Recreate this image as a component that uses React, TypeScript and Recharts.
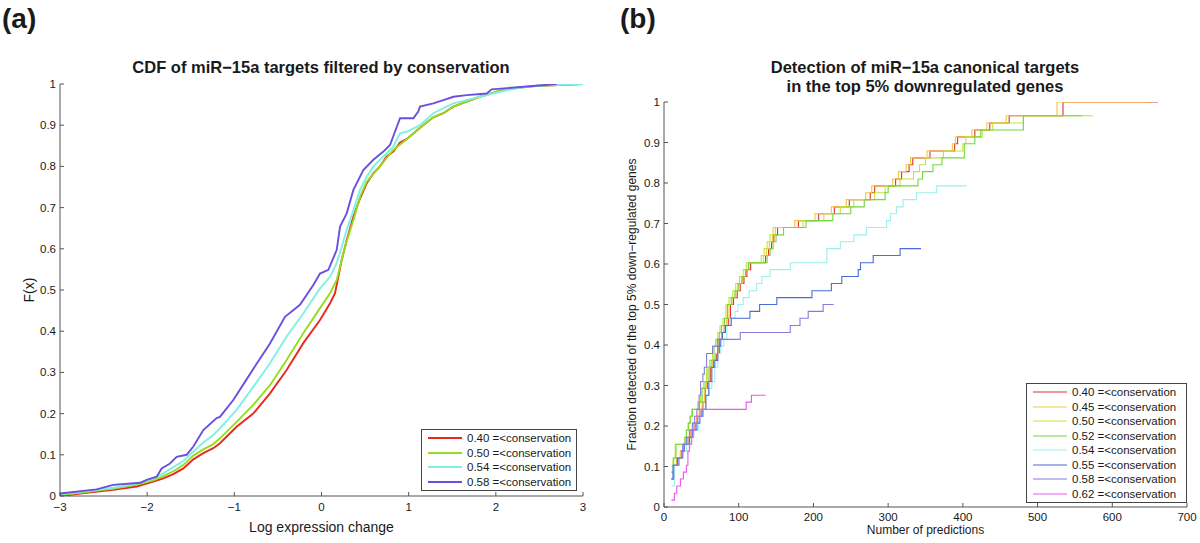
import React from 'react';
import { LineChart, Line, XAxis, YAxis, Legend } from 'recharts';

// ---- (a) CDF of miR-15a targets, points are [log expression change, F(x)]
const cdf040: [number, number][] = [
  [-3, 0], [-2.77, 0.006], [-2.39, 0.015], [-2.12, 0.023], [-1.93, 0.035], [-1.815, 0.043],
  [-1.7, 0.053], [-1.585, 0.067], [-1.47, 0.089], [-1.356, 0.104], [-1.241, 0.116], [-1.165, 0.128],
  [-0.974, 0.168], [-0.783, 0.2], [-0.591, 0.249], [-0.4, 0.306], [-0.209, 0.371], [-0.017, 0.427],
  [0.098, 0.468], [0.155, 0.492], [0.193, 0.532], [0.232, 0.573], [0.289, 0.621], [0.366, 0.678],
  [0.442, 0.722], [0.518, 0.759], [0.595, 0.783], [0.671, 0.8], [0.748, 0.824], [0.824, 0.836],
  [0.901, 0.858], [0.977, 0.866], [1.13, 0.894], [1.283, 0.919], [1.398, 0.929], [1.513, 0.945],
  [1.665, 0.957], [1.818, 0.969], [1.933, 0.976], [2.048, 0.984], [2.239, 0.99], [2.43, 0.995], [3, 1],
];
const cdf050: [number, number][] = [
  [-3, 0.002], [-2.77, 0.008], [-2.39, 0.018], [-2.12, 0.027], [-1.93, 0.038], [-1.815, 0.048],
  [-1.7, 0.06], [-1.585, 0.075], [-1.47, 0.098], [-1.356, 0.113], [-1.241, 0.126], [-1.165, 0.14],
  [-0.974, 0.18], [-0.783, 0.221], [-0.591, 0.269], [-0.4, 0.33], [-0.209, 0.395], [-0.017, 0.456],
  [0.098, 0.492], [0.174, 0.524], [0.213, 0.557], [0.27, 0.605], [0.366, 0.67], [0.442, 0.726],
  [0.518, 0.763], [0.633, 0.791], [0.824, 0.84], [0.977, 0.866], [1.13, 0.894], [1.283, 0.919],
  [1.398, 0.929], [1.513, 0.945], [1.665, 0.957], [1.818, 0.969], [1.933, 0.976], [2.048, 0.984],
  [2.239, 0.99], [2.43, 0.995], [3, 1],
];
const cdf054: [number, number][] = [
  [-3, 0.004], [-2.77, 0.01], [-2.39, 0.02], [-2.12, 0.03], [-1.93, 0.042], [-1.815, 0.055],
  [-1.7, 0.07], [-1.585, 0.085], [-1.47, 0.108], [-1.356, 0.13], [-1.241, 0.148], [-1.165, 0.164],
  [-0.974, 0.209], [-0.783, 0.265], [-0.591, 0.322], [-0.4, 0.387], [-0.209, 0.443], [-0.017, 0.504],
  [0.098, 0.532], [0.174, 0.565], [0.232, 0.605], [0.289, 0.646], [0.366, 0.694], [0.442, 0.743],
  [0.518, 0.775], [0.595, 0.8], [0.71, 0.824], [0.824, 0.848], [0.901, 0.88], [0.977, 0.884],
  [1.13, 0.9], [1.283, 0.929], [1.513, 0.953], [1.742, 0.965], [2.048, 0.981], [2.239, 0.99],
  [2.62, 0.998], [3, 1],
];
const cdf058: [number, number][] = [
  [-3, 0.006], [-2.58, 0.016], [-2.39, 0.027], [-2.08, 0.032], [-2.006, 0.039], [-1.891, 0.047],
  [-1.834, 0.067], [-1.738, 0.079], [-1.662, 0.095], [-1.547, 0.1], [-1.47, 0.12], [-1.356, 0.16],
  [-1.203, 0.189], [-1.165, 0.192], [-1.012, 0.233], [-0.878, 0.277], [-0.744, 0.321], [-0.591, 0.37],
  [-0.419, 0.435], [-0.247, 0.464], [-0.094, 0.512], [-0.017, 0.54], [0.079, 0.549], [0.174, 0.597],
  [0.213, 0.654], [0.289, 0.686], [0.366, 0.743], [0.48, 0.791], [0.595, 0.816], [0.71, 0.836],
  [0.786, 0.852], [0.901, 0.917], [1.054, 0.917], [1.11, 0.933], [1.13, 0.945], [1.283, 0.953],
  [1.398, 0.961], [1.513, 0.969], [1.665, 0.973], [1.895, 0.977], [1.952, 0.987], [2.43, 0.995],
  [2.697, 1],
];

const cdfSeries = [cdf040, cdf050, cdf054, cdf058];
const cdfNames = ['0.40 =<conservation', '0.50 =<conservation', '0.54 =<conservation', '0.58 =<conservation'];
const cdfColors = ['#e8281e', '#96dc1e', '#7ff0e4', '#6a4fe0'];

// ---- (b) detection of canonical targets, points are [number of predictions, fraction]
const det040: [number, number][] = [
  [10, 0.069], [13, 0.103], [17, 0.121], [22, 0.138], [27, 0.155], [32, 0.172], [36, 0.19], [40, 0.207],
  [44, 0.224], [48, 0.241], [52, 0.259], [55, 0.293], [58, 0.31], [62, 0.345], [66, 0.362], [70, 0.379],
  [74, 0.414], [78, 0.431], [82, 0.448], [86, 0.466], [89, 0.5], [93, 0.517], [98, 0.534], [102, 0.552],
  [107, 0.569], [111, 0.586], [116, 0.603], [136, 0.621], [140, 0.638], [144, 0.655], [147, 0.672],
  [152, 0.69], [180, 0.707], [207, 0.724], [228, 0.741], [248, 0.759], [276, 0.776], [282, 0.793],
  [310, 0.81], [318, 0.828], [328, 0.845], [333, 0.862], [356, 0.879], [389, 0.897], [393, 0.914],
  [416, 0.931], [436, 0.948], [462, 0.966], [534, 1], [661, 1],
];
const det045: [number, number][] = [
  [10, 0.086], [13, 0.103], [17, 0.121], [22, 0.138], [27, 0.155], [32, 0.172], [36, 0.19], [40, 0.207],
  [44, 0.224], [47, 0.241], [51, 0.259], [54, 0.293], [57, 0.31], [61, 0.345], [65, 0.362], [69, 0.379],
  [73, 0.414], [77, 0.431], [80, 0.448], [84, 0.466], [87, 0.5], [91, 0.517], [96, 0.534], [100, 0.552],
  [105, 0.569], [109, 0.586], [114, 0.603], [133, 0.621], [137, 0.638], [141, 0.655], [145, 0.672],
  [149, 0.69], [175, 0.707], [202, 0.724], [224, 0.741], [244, 0.759], [270, 0.776], [278, 0.793],
  [306, 0.81], [314, 0.828], [324, 0.845], [330, 0.862], [352, 0.879], [386, 0.897], [390, 0.914],
  [412, 0.931], [432, 0.948], [458, 0.966], [526, 1], [649, 1],
];
const det050: [number, number][] = [
  [10, 0.103], [12, 0.121], [15, 0.155], [28, 0.172], [30, 0.19], [32, 0.207], [35, 0.224], [37, 0.241],
  [45, 0.259], [49, 0.293], [53, 0.31], [57, 0.345], [61, 0.362], [65, 0.397], [69, 0.414], [72, 0.431],
  [75, 0.448], [79, 0.466], [83, 0.5], [87, 0.517], [92, 0.534], [96, 0.552], [101, 0.569], [106, 0.586],
  [110, 0.603], [130, 0.621], [134, 0.638], [138, 0.655], [142, 0.672], [146, 0.69], [186, 0.707],
  [214, 0.724], [236, 0.741], [254, 0.759], [282, 0.776], [296, 0.793], [316, 0.81], [334, 0.828],
  [342, 0.845], [350, 0.862], [374, 0.879], [400, 0.897], [404, 0.914], [426, 0.931], [440, 0.948],
  [481, 0.966], [574, 0.966],
];
const det052: [number, number][] = [
  [10, 0.086], [13, 0.121], [16, 0.155], [28, 0.172], [30, 0.19], [33, 0.207], [35, 0.224], [38, 0.241],
  [47, 0.259], [51, 0.293], [55, 0.31], [59, 0.345], [63, 0.362], [67, 0.397], [71, 0.414], [74, 0.431],
  [77, 0.448], [81, 0.466], [85, 0.5], [90, 0.517], [95, 0.534], [99, 0.552], [104, 0.569], [109, 0.586],
  [113, 0.603], [138, 0.621], [142, 0.638], [146, 0.655], [150, 0.672], [160, 0.69], [190, 0.707],
  [226, 0.724], [250, 0.741], [268, 0.759], [296, 0.776], [300, 0.793], [340, 0.81], [346, 0.828],
  [360, 0.845], [372, 0.862], [402, 0.897], [416, 0.914], [424, 0.931], [481, 0.966], [560, 0.966],
];
const det054: [number, number][] = [
  [10, 0.052], [14, 0.103], [20, 0.121], [26, 0.138], [30, 0.155], [36, 0.172], [40, 0.19], [46, 0.224],
  [52, 0.241], [56, 0.276], [60, 0.293], [64, 0.31], [68, 0.345], [72, 0.379], [76, 0.397], [80, 0.414],
  [84, 0.448], [88, 0.466], [95, 0.483], [99, 0.5], [106, 0.517], [114, 0.534], [124, 0.552], [131, 0.569],
  [142, 0.586], [169, 0.603], [218, 0.638], [236, 0.655], [254, 0.672], [271, 0.69], [298, 0.707],
  [303, 0.724], [311, 0.741], [320, 0.759], [338, 0.776], [365, 0.793], [405, 0.793],
];
const det055: [number, number][] = [
  [10, 0.069], [12, 0.103], [18, 0.121], [24, 0.138], [27, 0.155], [34, 0.172], [38, 0.19], [44, 0.207],
  [48, 0.224], [52, 0.241], [56, 0.276], [60, 0.31], [64, 0.345], [68, 0.362], [72, 0.397], [76, 0.414],
  [78, 0.431], [82, 0.448], [90, 0.466], [115, 0.483], [128, 0.5], [151, 0.517], [198, 0.534],
  [224, 0.552], [238, 0.569], [260, 0.586], [263, 0.603], [280, 0.621], [316, 0.638], [344, 0.638],
];
const det058: [number, number][] = [
  [10, 0.069], [13, 0.103], [20, 0.121], [25, 0.155], [30, 0.172], [34, 0.19], [38, 0.207], [41, 0.224],
  [44, 0.241], [47, 0.276], [49, 0.31], [52, 0.328], [54, 0.345], [57, 0.379], [65, 0.397], [72, 0.414],
  [102, 0.431], [169, 0.448], [182, 0.466], [193, 0.483], [213, 0.5], [227, 0.5],
];
const det062: [number, number][] = [
  [10, 0.017], [14, 0.034], [17, 0.052], [22, 0.069], [26, 0.086], [30, 0.103], [32, 0.138], [34, 0.155],
  [37, 0.172], [39, 0.19], [42, 0.207], [45, 0.224], [50, 0.241], [110, 0.259], [117, 0.276], [136, 0.276],
];

const detSeries = [det040, det045, det050, det052, det054, det055, det058, det062];
const detNames = [
  '0.40 =<conservation', '0.45 =<conservation', '0.50 =<conservation', '0.52 =<conservation',
  '0.54 =<conservation', '0.55 =<conservation', '0.58 =<conservation', '0.62 =<conservation',
];
const detColors = ['#e0302a', '#f5c542', '#bde83a', '#72d83c', '#9af0ee', '#4a6cd8', '#8a7ae0', '#ee55ee'];

// ---- axes
const xTicksA = [-3, -2, -1, 0, 1, 2, 3];
const xTicksB = [0, 100, 200, 300, 400, 500, 600, 700];
const yTicks = [0, 0.1, 0.2, 0.3, 0.4, 0.5, 0.6, 0.7, 0.8, 0.9, 1];

const FONT = "'Liberation Sans', Arial, Helvetica, sans-serif";
const AXIS = '#555';
const INK = '#1a1a1a';

const toPoints = (arr: [number, number][]) => arr.map(([x, y]) => ({ x, y }));
const minus = (v: number) => (v < 0 ? '\u2212' + Math.abs(v) : String(v));

const BoxLegend = ({ payload, lineWidth }: { payload?: any[]; lineWidth: number }) => (
  <div
    style={{
      border: '1px solid #444',
      background: '#fff',
      padding: '1px 0 1px 6px',
      fontSize: 11.5,
      color: INK,
      fontFamily: FONT,
    }}
  >
    {(payload || []).map((p) => (
      <div key={p.value} style={{ display: 'flex', alignItems: 'center', height: 14.5 }}>
        <svg width={34} height={6} style={{ flex: 'none' }}>
          <line x1={0} y1={3} x2={34} y2={3} stroke={p.color} strokeWidth={lineWidth} />
        </svg>
        <span style={{ marginLeft: 5, whiteSpace: 'nowrap' }}>{p.value}</span>
      </div>
    ))}
  </div>
);

const panelLetter: React.CSSProperties = {
  position: 'absolute',
  top: 3,
  fontSize: 28,
  fontWeight: 'bold',
  lineHeight: '32px',
  color: INK,
};

const titleStyle: React.CSSProperties = {
  position: 'absolute',
  fontSize: 16.5,
  fontWeight: 'bold',
  lineHeight: '19px',
  textAlign: 'center',
  color: INK,
  whiteSpace: 'nowrap',
};

export default function App() {
  return (
    <div
      style={{
        position: 'absolute',
        left: 0,
        top: 0,
        width: 1200,
        height: 543,
        background: '#fff',
        fontFamily: FONT,
        overflow: 'hidden',
      }}
    >
      <div style={{ ...panelLetter, left: 2 }}>(a)</div>
      <div style={{ ...panelLetter, left: 620 }}>(b)</div>

      <div style={{ ...titleStyle, left: 121, width: 400, top: 58 }}>
        CDF of miR{'\u2212'}15a targets filtered by conservation
      </div>
      <div style={{ ...titleStyle, left: 725, width: 400, top: 58 }}>
        Detection of miR{'\u2212'}15a canonical targets
        <br />
        in the top 5% downregulated genes
      </div>

      {/* panel (a) */}
      <div style={{ position: 'absolute', left: 0, top: 0 }}>
        <LineChart width={600} height={543} margin={{ top: 84, right: 17, left: 20, bottom: 7 }}>
          <XAxis
            type="number"
            dataKey="x"
            domain={[-3, 3]}
            ticks={xTicksA}
            interval={0}
            height={40}
            allowDataOverflow
            stroke={AXIS}
            tickSize={-4}
            tickMargin={11}
            tickFormatter={minus}
            tick={{ fontSize: 11.5, fill: INK }}
            label={{ value: 'Log expression change', position: 'insideBottom', offset: 4, fontSize: 14, fill: INK }}
          />
          <YAxis
            type="number"
            domain={[0, 1]}
            ticks={yTicks}
            interval={0}
            width={40}
            allowDataOverflow
            stroke={AXIS}
            tickSize={-4}
            tickMargin={8}
            tick={{ fontSize: 11.5, fill: INK }}
            label={{
              value: 'F(x)',
              angle: -90,
              position: 'insideLeft',
              offset: 9,
              fontSize: 14,
              fill: INK,
              style: { textAnchor: 'middle' },
            }}
          />
          {cdfSeries.map((s, i) => (
            <Line
              key={cdfNames[i]}
              data={toPoints(s)}
              dataKey="y"
              name={cdfNames[i]}
              stroke={cdfColors[i]}
              strokeWidth={1.9}
              type="linear"
              dot={false}
              activeDot={false}
              isAnimationActive={false}
            />
          ))}
          <Legend
            layout="vertical"
            verticalAlign="middle"
            align="center"
            wrapperStyle={{ left: 421, top: 429, width: 156 }}
            content={(props: any) => <BoxLegend payload={props.payload} lineWidth={1.8} />}
          />
        </LineChart>
      </div>

      {/* panel (b) */}
      <div style={{ position: 'absolute', left: 600, top: 0 }}>
        <LineChart width={600} height={543} margin={{ top: 102, right: 13, left: 24, bottom: 0 }}>
          <XAxis
            type="number"
            dataKey="x"
            domain={[0, 700]}
            ticks={xTicksB}
            interval={0}
            height={36}
            allowDataOverflow
            stroke={AXIS}
            tickSize={-4}
            tickMargin={10}
            tick={{ fontSize: 11.5, fill: INK }}
            label={{ value: 'Number of predictions', position: 'insideBottom', offset: 9, fontSize: 12, fill: INK }}
          />
          <YAxis
            type="number"
            domain={[0, 1]}
            ticks={yTicks}
            interval={0}
            width={40}
            allowDataOverflow
            stroke={AXIS}
            tickSize={-4}
            tickMargin={8}
            tick={{ fontSize: 11.5, fill: INK }}
            label={{
              value: 'Fraction detected of the top 5% down\u2212regulated genes',
              angle: -90,
              position: 'insideLeft',
              offset: 8,
              fontSize: 12,
              fill: INK,
              style: { textAnchor: 'middle' },
            }}
          />
          {detSeries.map((s, i) => (
            <Line
              key={detNames[i]}
              data={toPoints(s)}
              dataKey="y"
              name={detNames[i]}
              stroke={detColors[i]}
              strokeWidth={1.1}
              type="stepAfter"
              dot={false}
              activeDot={false}
              isAnimationActive={false}
            />
          ))}
          <Legend
            layout="vertical"
            verticalAlign="middle"
            align="center"
            wrapperStyle={{ left: 426, top: 383, width: 161 }}
            content={(props: any) => <BoxLegend payload={props.payload} lineWidth={1.1} />}
          />
        </LineChart>
      </div>
    </div>
  );
}
